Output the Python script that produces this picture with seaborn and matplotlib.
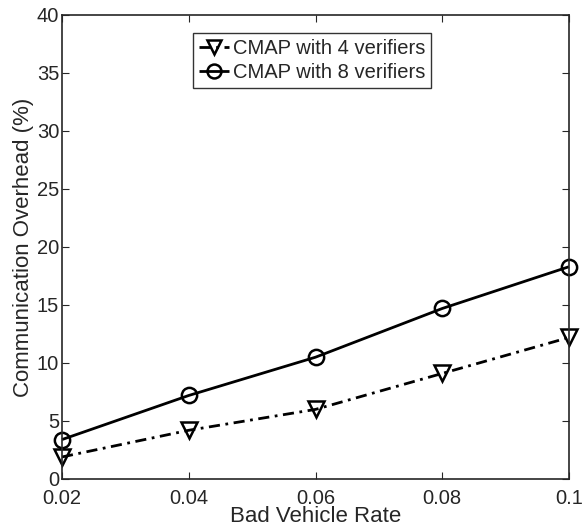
import matplotlib

matplotlib.use("Agg")
import matplotlib.pyplot as plt
import pandas as pd
import seaborn as sns

sns.set_style("ticks")
plt.rcParams["font.family"] = ["Liberation Sans", "DejaVu Sans"]

rates = [0.02, 0.04, 0.06, 0.08, 0.1]
overhead_4 = [1.9, 4.2, 6.0, 9.1, 12.2]
overhead_8 = [3.4, 7.2, 10.5, 14.7, 18.3]
labels = ["CMAP with 4 verifiers", "CMAP with 8 verifiers"]

df = pd.DataFrame({
    "rate": rates * 2,
    "overhead": overhead_4 + overhead_8,
    "series": [labels[0]] * len(rates) + [labels[1]] * len(rates),
})

fig = plt.figure(figsize=(5.82, 5.27), dpi=100)
ax = fig.add_axes([62 / 582, 1 - 479 / 527, 507 / 582, 464 / 527])

sns.lineplot(
    data=df, x="rate", y="overhead", hue="series", style="series",
    palette=["black", "black"],
    markers={labels[0]: "v", labels[1]: "o"},
    dashes={labels[0]: (4, 2, 1, 2), labels[1]: (1, 0)},
    linewidth=2, markersize=11, markerfacecolor="none",
    markeredgecolor="black", markeredgewidth=1.8,
    ax=ax, clip_on=False,
)

ax.set_xlim(0.02, 0.1)
ax.set_ylim(0, 40)
ax.set_xticks(rates)
ax.set_xticklabels(["0.02", "0.04", "0.06", "0.08", "0.1"])
ax.set_yticks(range(0, 41, 5))
ax.set_xlabel("Bad Vehicle Rate", fontsize=16, va="top")
ax.xaxis.set_label_coords(0.5, -(506 - 479) / 464)
ax.set_ylabel("Communication Overhead (%)", fontsize=16, labelpad=2)
ax.tick_params(direction="in", length=5, width=0.8, labelsize=14.5, top=True, right=True)
ax.tick_params(axis="x", pad=7)
ax.tick_params(axis="y", pad=2)
for s in ax.spines.values():
    s.set_linewidth(1.2)
    s.set_visible(True)

leg = ax.legend(loc="upper center", bbox_to_anchor=(0.493, 0.961), fontsize=14.5,
                frameon=True, fancybox=False, edgecolor="black", handlelength=1.5,
                handletextpad=0.2, borderpad=0.3, labelspacing=0.25, borderaxespad=0)
leg.get_frame().set_linewidth(1.0)
for h in leg.legend_handles:
    h.set_markerfacecolor("none")
    h.set_markeredgecolor("black")
    h.set_markeredgewidth(1.8)
    h.set_markersize(10)

fig.savefig("out.png", dpi=100)
